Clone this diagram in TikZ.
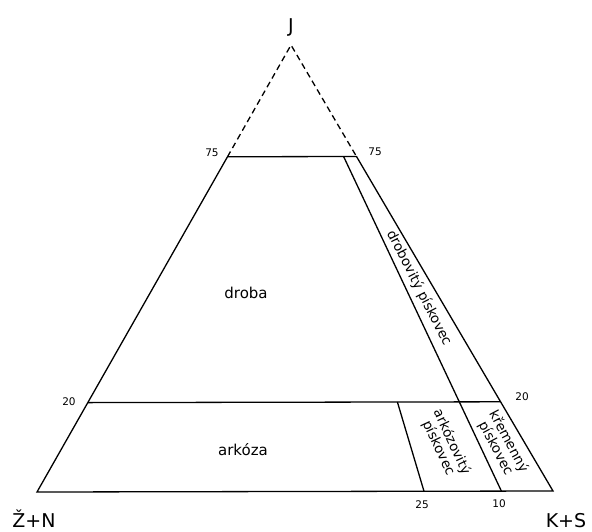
\documentclass[tikz,border=0pt]{standalone}
\usepackage{fontspec}
\setmainfont{DejaVu Sans}
\usetikzlibrary{calc}

\tikzset{
  hranice/.style={black, line width=1.3pt},
  cislo/.style={font=\fontsize{10.5}{10.5}\selectfont, inner sep=1pt},
  pole/.style={font=\fontsize{15}{15}\selectfont, inner sep=1pt},
  pasmo/.style={font=\fontsize{13.5}{13.5}\selectfont, inner sep=0pt, align=center},
  vrchol/.style={font=\fontsize{19}{19}\selectfont, inner sep=0pt, anchor=base}
}

\begin{document}
\begin{tikzpicture}[x=1pt, y=-1pt]
            \useasboundingbox (0,0) rectangle (592,531);
            % vrcholy trojuhelniku
            \coordinate (J) at (291,45);
            \coordinate (ZN) at (37,492);
            \coordinate (KS) at (553,491);
            % body na stranach
            \coordinate (L75) at ($(ZN)!0.75!(J)$);
            \coordinate (R75) at ($(KS)!0.75!(J)$);
            \coordinate (L20) at ($(ZN)!0.2!(J)$);
            \coordinate (R20) at ($(KS)!0.2!(J)$);
            \coordinate (B25) at ($(KS)!0.25!(ZN)$);
            \coordinate (B10) at ($(KS)!0.1!(ZN)$);
            \coordinate (T10) at ($(J)!0.25!(B10)$);
            \coordinate (T25) at ($(J)!0.8!(B25)$);
            % obrys
            \draw[hranice, dash pattern=on 6pt off 4pt] (L75) -- (J) -- (R75);
            \draw[hranice] (L75) -- (ZN) -- (KS) -- (R75) -- cycle;
            \draw[hranice] (L20) -- (R20);
            \draw[hranice] (T10) -- (B10);
            \draw[hranice] (T25) -- (B25);
            % popisky
            \node[vrchol] (lJ) at (291,32) {J};
            \node[vrchol] (lZN) at (34,527) {Ž+N};
            \node[vrchol] (lKS) at (566,527) {K+S};
            \node[cislo] (l75a) at (212,153) {75};
            \node[cislo] (l75b) at (375,152) {75};
            \node[cislo] (l20a) at (69,402) {20};
            \node[cislo] (l20b) at (522,397) {20};
            \node[cislo] (l25) at (422,505) {25};
            \node[cislo] (l10) at (499,504) {10};
            \node[pole] (droba) at (246,293) {droba};
            \node[pole] (arkoza) at (243,450) {arkóza};
            \node[pasmo, rotate=-63] (drobovity) at (419,288) {drobovitý pískovec};
            \node[pasmo, rotate=-65] (arkozovity) at (445,445) {arkózovitý\\pískovec};
            \node[pasmo, rotate=-62] (kremenny) at (502,445) {křemenný\\pískovec};
        \end{tikzpicture}
\end{document}
